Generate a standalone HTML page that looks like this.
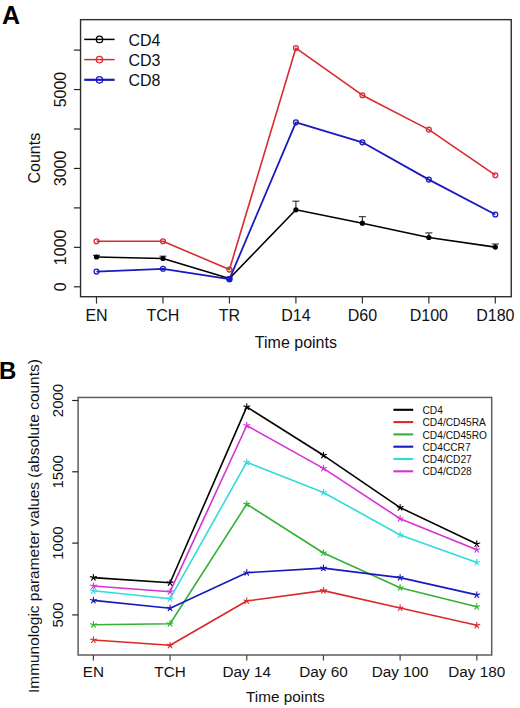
<!DOCTYPE html><html><head><meta charset="utf-8"><style>html,body{margin:0;padding:0;background:#fff;}svg{display:block;}text{font-family:"Liberation Sans",sans-serif;}</style></head><body>
<svg width="520" height="708" viewBox="0 0 520 708">
<rect width="520" height="708" fill="#fff"/>
<text x="2" y="23.8" font-size="25" font-weight="bold" fill="#000">A</text>
<rect x="80.55" y="19.65" width="430.7" height="277.05" fill="none" stroke="#2e2e2e" stroke-width="1.4"/>
<line x1="96.5" y1="296.7" x2="96.5" y2="303.6" stroke="#333" stroke-width="1.2"/>
<text x="96.5" y="321.3" font-size="16" text-anchor="middle" fill="#111">EN</text>
<line x1="162.97" y1="296.7" x2="162.97" y2="303.6" stroke="#333" stroke-width="1.2"/>
<text x="162.97" y="321.3" font-size="16" text-anchor="middle" fill="#111">TCH</text>
<line x1="229.44" y1="296.7" x2="229.44" y2="303.6" stroke="#333" stroke-width="1.2"/>
<text x="229.44" y="321.3" font-size="16" text-anchor="middle" fill="#111">TR</text>
<line x1="295.91" y1="296.7" x2="295.91" y2="303.6" stroke="#333" stroke-width="1.2"/>
<text x="295.91" y="321.3" font-size="16" text-anchor="middle" fill="#111">D14</text>
<line x1="362.38" y1="296.7" x2="362.38" y2="303.6" stroke="#333" stroke-width="1.2"/>
<text x="362.38" y="321.3" font-size="16" text-anchor="middle" fill="#111">D60</text>
<line x1="428.85" y1="296.7" x2="428.85" y2="303.6" stroke="#333" stroke-width="1.2"/>
<text x="428.85" y="321.3" font-size="16" text-anchor="middle" fill="#111">D100</text>
<line x1="495.32" y1="296.7" x2="495.32" y2="303.6" stroke="#333" stroke-width="1.2"/>
<text x="495.32" y="321.3" font-size="16" text-anchor="middle" fill="#111">D180</text>
<line x1="73.9" y1="286.8" x2="80.55" y2="286.8" stroke="#222" stroke-width="1.2"/>
<text transform="translate(65.6 286.8) rotate(-90)" font-size="16" text-anchor="middle" fill="#111">0</text>
<line x1="73.9" y1="247.35" x2="80.55" y2="247.35" stroke="#222" stroke-width="1.2"/>
<text transform="translate(65.6 247.35) rotate(-90)" font-size="16" text-anchor="middle" fill="#111">1000</text>
<line x1="73.9" y1="207.9" x2="80.55" y2="207.9" stroke="#222" stroke-width="1.2"/>
<line x1="73.9" y1="168.45" x2="80.55" y2="168.45" stroke="#222" stroke-width="1.2"/>
<text transform="translate(65.6 168.45) rotate(-90)" font-size="16" text-anchor="middle" fill="#111">3000</text>
<line x1="73.9" y1="129" x2="80.55" y2="129" stroke="#222" stroke-width="1.2"/>
<line x1="73.9" y1="89.55" x2="80.55" y2="89.55" stroke="#222" stroke-width="1.2"/>
<text transform="translate(65.6 89.55) rotate(-90)" font-size="16" text-anchor="middle" fill="#111">5000</text>
<line x1="73.9" y1="50.1" x2="80.55" y2="50.1" stroke="#222" stroke-width="1.2"/>
<text transform="translate(40.3 158.15) rotate(-90)" font-size="16" text-anchor="middle" fill="#111">Counts</text>
<text x="295.9" y="347.8" font-size="16" text-anchor="middle" fill="#111">Time points</text>
<polyline points="96.5,257 162.97,258.5 229.44,278.5 295.91,209.8 362.38,223.2 428.85,237.5 495.32,247.1" fill="none" stroke="#000" stroke-width="1.6" stroke-linejoin="round"/>
<line x1="96.5" y1="257" x2="96.5" y2="255.3" stroke="#2a2a2a" stroke-width="1.1"/>
<line x1="93" y1="255.3" x2="100" y2="255.3" stroke="#2a2a2a" stroke-width="1.1"/>
<circle cx="96.5" cy="257" r="2.6" fill="#000"/>
<line x1="162.97" y1="258.5" x2="162.97" y2="256.2" stroke="#2a2a2a" stroke-width="1.1"/>
<line x1="159.47" y1="256.2" x2="166.47" y2="256.2" stroke="#2a2a2a" stroke-width="1.1"/>
<circle cx="162.97" cy="258.5" r="2.6" fill="#000"/>
<line x1="229.44" y1="278.5" x2="229.44" y2="277.2" stroke="#2a2a2a" stroke-width="1.1"/>
<line x1="225.94" y1="277.2" x2="232.94" y2="277.2" stroke="#2a2a2a" stroke-width="1.1"/>
<circle cx="229.44" cy="278.5" r="2.6" fill="#000"/>
<line x1="295.91" y1="209.8" x2="295.91" y2="201.2" stroke="#2a2a2a" stroke-width="1.1"/>
<line x1="292.41" y1="201.2" x2="299.41" y2="201.2" stroke="#2a2a2a" stroke-width="1.1"/>
<circle cx="295.91" cy="209.8" r="2.6" fill="#000"/>
<line x1="362.38" y1="223.2" x2="362.38" y2="216.7" stroke="#2a2a2a" stroke-width="1.1"/>
<line x1="358.88" y1="216.7" x2="365.88" y2="216.7" stroke="#2a2a2a" stroke-width="1.1"/>
<circle cx="362.38" cy="223.2" r="2.6" fill="#000"/>
<line x1="428.85" y1="237.5" x2="428.85" y2="232.9" stroke="#2a2a2a" stroke-width="1.1"/>
<line x1="425.35" y1="232.9" x2="432.35" y2="232.9" stroke="#2a2a2a" stroke-width="1.1"/>
<circle cx="428.85" cy="237.5" r="2.6" fill="#000"/>
<line x1="495.32" y1="247.1" x2="495.32" y2="244" stroke="#2a2a2a" stroke-width="1.1"/>
<line x1="491.82" y1="244" x2="498.82" y2="244" stroke="#2a2a2a" stroke-width="1.1"/>
<circle cx="495.32" cy="247.1" r="2.6" fill="#000"/>
<polyline points="96.5,241.2 162.97,241.2 229.44,269.6 295.91,48.1 362.38,95.2 428.85,129.6 495.32,175.2" fill="none" stroke="#d82a30" stroke-width="1.6" stroke-linejoin="round"/>
<circle cx="96.5" cy="241.2" r="2.45" fill="none" stroke="#d82a30" stroke-width="1.25"/>
<circle cx="162.97" cy="241.2" r="2.45" fill="none" stroke="#d82a30" stroke-width="1.25"/>
<circle cx="229.44" cy="269.6" r="2.45" fill="none" stroke="#d82a30" stroke-width="1.25"/>
<circle cx="295.91" cy="48.1" r="2.45" fill="none" stroke="#d82a30" stroke-width="1.25"/>
<circle cx="362.38" cy="95.2" r="2.45" fill="none" stroke="#d82a30" stroke-width="1.25"/>
<circle cx="428.85" cy="129.6" r="2.45" fill="none" stroke="#d82a30" stroke-width="1.25"/>
<circle cx="495.32" cy="175.2" r="2.45" fill="none" stroke="#d82a30" stroke-width="1.25"/>
<polyline points="96.5,271.6 162.97,268.8 229.44,279.2 295.91,122.3 362.38,142.3 428.85,179.6 495.32,214.5" fill="none" stroke="#1a1ac0" stroke-width="1.8" stroke-linejoin="round"/>
<circle cx="96.5" cy="271.6" r="2.45" fill="none" stroke="#1a1ac0" stroke-width="1.25"/>
<circle cx="162.97" cy="268.8" r="2.45" fill="none" stroke="#1a1ac0" stroke-width="1.25"/>
<circle cx="229.44" cy="279.2" r="2.45" fill="none" stroke="#1a1ac0" stroke-width="1.25"/>
<circle cx="295.91" cy="122.3" r="2.45" fill="none" stroke="#1a1ac0" stroke-width="1.25"/>
<circle cx="362.38" cy="142.3" r="2.45" fill="none" stroke="#1a1ac0" stroke-width="1.25"/>
<circle cx="428.85" cy="179.6" r="2.45" fill="none" stroke="#1a1ac0" stroke-width="1.25"/>
<circle cx="495.32" cy="214.5" r="2.45" fill="none" stroke="#1a1ac0" stroke-width="1.25"/>
<circle cx="229.44" cy="279.2" r="3" fill="#1a1ac0"/>
<line x1="84.2" y1="39.4" x2="114.6" y2="39.4" stroke="#000" stroke-width="1.5"/>
<circle cx="99.5" cy="39.4" r="3.2" fill="none" stroke="#000" stroke-width="1.3"/>
<text x="128.5" y="45.9" font-size="16" fill="#111">CD4</text>
<line x1="84.2" y1="59.6" x2="114.6" y2="59.6" stroke="#d82a30" stroke-width="1.5"/>
<circle cx="99.5" cy="59.6" r="3.2" fill="none" stroke="#d82a30" stroke-width="1.3"/>
<text x="128.5" y="66.1" font-size="16" fill="#111">CD3</text>
<line x1="84.2" y1="79.8" x2="114.6" y2="79.8" stroke="#1a1ac0" stroke-width="2.2"/>
<circle cx="99.5" cy="79.8" r="3.2" fill="none" stroke="#1a1ac0" stroke-width="1.3"/>
<text x="128.5" y="86.3" font-size="16" fill="#111">CD8</text>
<text x="-1" y="379" font-size="24" font-weight="bold" fill="#000">B</text>
<rect x="78.1" y="397.45" width="413.6" height="257.55" fill="none" stroke="#5e5e5e" stroke-width="1.5"/>
<line x1="93.4" y1="655" x2="93.4" y2="660.5" stroke="#444" stroke-width="1.2"/>
<text x="93.4" y="677.4" font-size="15.3" text-anchor="middle" fill="#111">EN</text>
<line x1="170.08" y1="655" x2="170.08" y2="660.5" stroke="#444" stroke-width="1.2"/>
<text x="170.08" y="677.4" font-size="15.3" text-anchor="middle" fill="#111">TCH</text>
<line x1="246.76" y1="655" x2="246.76" y2="660.5" stroke="#444" stroke-width="1.2"/>
<text x="246.76" y="677.4" font-size="15.3" text-anchor="middle" fill="#111">Day 14</text>
<line x1="323.44" y1="655" x2="323.44" y2="660.5" stroke="#444" stroke-width="1.2"/>
<text x="323.44" y="677.4" font-size="15.3" text-anchor="middle" fill="#111">Day 60</text>
<line x1="400.12" y1="655" x2="400.12" y2="660.5" stroke="#444" stroke-width="1.2"/>
<text x="400.12" y="677.4" font-size="15.3" text-anchor="middle" fill="#111">Day 100</text>
<line x1="476.8" y1="655" x2="476.8" y2="660.5" stroke="#444" stroke-width="1.2"/>
<text x="476.8" y="677.4" font-size="15.3" text-anchor="middle" fill="#111">Day 180</text>
<line x1="72.2" y1="400.5" x2="78.1" y2="400.5" stroke="#222" stroke-width="1.2"/>
<text transform="translate(63.1 400.5) rotate(-90)" font-size="15" text-anchor="middle" fill="#111">2000</text>
<line x1="72.2" y1="471.8" x2="78.1" y2="471.8" stroke="#222" stroke-width="1.2"/>
<text transform="translate(63.1 471.8) rotate(-90)" font-size="15" text-anchor="middle" fill="#111">1500</text>
<line x1="72.2" y1="543.1" x2="78.1" y2="543.1" stroke="#222" stroke-width="1.2"/>
<text transform="translate(63.1 543.1) rotate(-90)" font-size="15" text-anchor="middle" fill="#111">1000</text>
<line x1="72.2" y1="614.9" x2="78.1" y2="614.9" stroke="#222" stroke-width="1.2"/>
<text transform="translate(63.1 614.9) rotate(-90)" font-size="15" text-anchor="middle" fill="#111">500</text>
<text transform="translate(39.2 526.1) rotate(-90)" font-size="15.45" text-anchor="middle" fill="#111">Immunologic parameter values (absolute counts)</text>
<text x="285.3" y="701.6" font-size="15.3" text-anchor="middle" fill="#111">Time points</text>
<polyline points="93.4,577.6 170.08,582.8 246.76,406.9 323.44,455.3 400.12,507.6 476.8,544" fill="none" stroke="#000" stroke-width="1.6" stroke-linejoin="round"/>
<path d="M93.4 577.6L93.4 574.5M93.4 577.6L96.35 576.64M93.4 577.6L90.45 576.64M93.4 577.6L91.58 580.11M93.4 577.6L95.22 580.11" stroke="#000" stroke-width="1.15" fill="none" stroke-linecap="round"/>
<path d="M170.08 582.8L170.08 579.7M170.08 582.8L173.03 581.84M170.08 582.8L167.13 581.84M170.08 582.8L168.26 585.31M170.08 582.8L171.9 585.31" stroke="#000" stroke-width="1.15" fill="none" stroke-linecap="round"/>
<path d="M246.76 406.9L246.76 403.8M246.76 406.9L249.71 405.94M246.76 406.9L243.81 405.94M246.76 406.9L244.94 409.41M246.76 406.9L248.58 409.41" stroke="#000" stroke-width="1.15" fill="none" stroke-linecap="round"/>
<path d="M323.44 455.3L323.44 452.2M323.44 455.3L326.39 454.34M323.44 455.3L320.49 454.34M323.44 455.3L321.62 457.81M323.44 455.3L325.26 457.81" stroke="#000" stroke-width="1.15" fill="none" stroke-linecap="round"/>
<path d="M400.12 507.6L400.12 504.5M400.12 507.6L403.07 506.64M400.12 507.6L397.17 506.64M400.12 507.6L398.3 510.11M400.12 507.6L401.94 510.11" stroke="#000" stroke-width="1.15" fill="none" stroke-linecap="round"/>
<path d="M476.8 544L476.8 540.9M476.8 544L479.75 543.04M476.8 544L473.85 543.04M476.8 544L474.98 546.51M476.8 544L478.62 546.51" stroke="#000" stroke-width="1.15" fill="none" stroke-linecap="round"/>
<polyline points="93.4,640 170.08,645.3 246.76,601 323.44,590.6 400.12,608 476.8,625.3" fill="none" stroke="#dc2828" stroke-width="1.6" stroke-linejoin="round"/>
<path d="M93.4 640L93.4 636.9M93.4 640L96.35 639.04M93.4 640L90.45 639.04M93.4 640L91.58 642.51M93.4 640L95.22 642.51" stroke="#dc2828" stroke-width="1.15" fill="none" stroke-linecap="round"/>
<path d="M170.08 645.3L170.08 642.2M170.08 645.3L173.03 644.34M170.08 645.3L167.13 644.34M170.08 645.3L168.26 647.81M170.08 645.3L171.9 647.81" stroke="#dc2828" stroke-width="1.15" fill="none" stroke-linecap="round"/>
<path d="M246.76 601L246.76 597.9M246.76 601L249.71 600.04M246.76 601L243.81 600.04M246.76 601L244.94 603.51M246.76 601L248.58 603.51" stroke="#dc2828" stroke-width="1.15" fill="none" stroke-linecap="round"/>
<path d="M323.44 590.6L323.44 587.5M323.44 590.6L326.39 589.64M323.44 590.6L320.49 589.64M323.44 590.6L321.62 593.11M323.44 590.6L325.26 593.11" stroke="#dc2828" stroke-width="1.15" fill="none" stroke-linecap="round"/>
<path d="M400.12 608L400.12 604.9M400.12 608L403.07 607.04M400.12 608L397.17 607.04M400.12 608L398.3 610.51M400.12 608L401.94 610.51" stroke="#dc2828" stroke-width="1.15" fill="none" stroke-linecap="round"/>
<path d="M476.8 625.3L476.8 622.2M476.8 625.3L479.75 624.34M476.8 625.3L473.85 624.34M476.8 625.3L474.98 627.81M476.8 625.3L478.62 627.81" stroke="#dc2828" stroke-width="1.15" fill="none" stroke-linecap="round"/>
<polyline points="93.4,624.7 170.08,623.7 246.76,504.1 323.44,553 400.12,587.7 476.8,606.7" fill="none" stroke="#34b034" stroke-width="1.6" stroke-linejoin="round"/>
<path d="M93.4 624.7L93.4 621.6M93.4 624.7L96.35 623.74M93.4 624.7L90.45 623.74M93.4 624.7L91.58 627.21M93.4 624.7L95.22 627.21" stroke="#34b034" stroke-width="1.15" fill="none" stroke-linecap="round"/>
<path d="M170.08 623.7L170.08 620.6M170.08 623.7L173.03 622.74M170.08 623.7L167.13 622.74M170.08 623.7L168.26 626.21M170.08 623.7L171.9 626.21" stroke="#34b034" stroke-width="1.15" fill="none" stroke-linecap="round"/>
<path d="M246.76 504.1L246.76 501M246.76 504.1L249.71 503.14M246.76 504.1L243.81 503.14M246.76 504.1L244.94 506.61M246.76 504.1L248.58 506.61" stroke="#34b034" stroke-width="1.15" fill="none" stroke-linecap="round"/>
<path d="M323.44 553L323.44 549.9M323.44 553L326.39 552.04M323.44 553L320.49 552.04M323.44 553L321.62 555.51M323.44 553L325.26 555.51" stroke="#34b034" stroke-width="1.15" fill="none" stroke-linecap="round"/>
<path d="M400.12 587.7L400.12 584.6M400.12 587.7L403.07 586.74M400.12 587.7L397.17 586.74M400.12 587.7L398.3 590.21M400.12 587.7L401.94 590.21" stroke="#34b034" stroke-width="1.15" fill="none" stroke-linecap="round"/>
<path d="M476.8 606.7L476.8 603.6M476.8 606.7L479.75 605.74M476.8 606.7L473.85 605.74M476.8 606.7L474.98 609.21M476.8 606.7L478.62 609.21" stroke="#34b034" stroke-width="1.15" fill="none" stroke-linecap="round"/>
<polyline points="93.4,600.4 170.08,608.2 246.76,572.7 323.44,568.1 400.12,577.6 476.8,594.9" fill="none" stroke="#1a1abc" stroke-width="1.6" stroke-linejoin="round"/>
<path d="M93.4 600.4L93.4 597.3M93.4 600.4L96.35 599.44M93.4 600.4L90.45 599.44M93.4 600.4L91.58 602.91M93.4 600.4L95.22 602.91" stroke="#1a1abc" stroke-width="1.15" fill="none" stroke-linecap="round"/>
<path d="M170.08 608.2L170.08 605.1M170.08 608.2L173.03 607.24M170.08 608.2L167.13 607.24M170.08 608.2L168.26 610.71M170.08 608.2L171.9 610.71" stroke="#1a1abc" stroke-width="1.15" fill="none" stroke-linecap="round"/>
<path d="M246.76 572.7L246.76 569.6M246.76 572.7L249.71 571.74M246.76 572.7L243.81 571.74M246.76 572.7L244.94 575.21M246.76 572.7L248.58 575.21" stroke="#1a1abc" stroke-width="1.15" fill="none" stroke-linecap="round"/>
<path d="M323.44 568.1L323.44 565M323.44 568.1L326.39 567.14M323.44 568.1L320.49 567.14M323.44 568.1L321.62 570.61M323.44 568.1L325.26 570.61" stroke="#1a1abc" stroke-width="1.15" fill="none" stroke-linecap="round"/>
<path d="M400.12 577.6L400.12 574.5M400.12 577.6L403.07 576.64M400.12 577.6L397.17 576.64M400.12 577.6L398.3 580.11M400.12 577.6L401.94 580.11" stroke="#1a1abc" stroke-width="1.15" fill="none" stroke-linecap="round"/>
<path d="M476.8 594.9L476.8 591.8M476.8 594.9L479.75 593.94M476.8 594.9L473.85 593.94M476.8 594.9L474.98 597.41M476.8 594.9L478.62 597.41" stroke="#1a1abc" stroke-width="1.15" fill="none" stroke-linecap="round"/>
<polyline points="93.4,590.8 170.08,598.7 246.76,462.2 323.44,492.5 400.12,535 476.8,562.5" fill="none" stroke="#2edcdc" stroke-width="1.6" stroke-linejoin="round"/>
<path d="M93.4 590.8L93.4 587.7M93.4 590.8L96.35 589.84M93.4 590.8L90.45 589.84M93.4 590.8L91.58 593.31M93.4 590.8L95.22 593.31" stroke="#2edcdc" stroke-width="1.15" fill="none" stroke-linecap="round"/>
<path d="M170.08 598.7L170.08 595.6M170.08 598.7L173.03 597.74M170.08 598.7L167.13 597.74M170.08 598.7L168.26 601.21M170.08 598.7L171.9 601.21" stroke="#2edcdc" stroke-width="1.15" fill="none" stroke-linecap="round"/>
<path d="M246.76 462.2L246.76 459.1M246.76 462.2L249.71 461.24M246.76 462.2L243.81 461.24M246.76 462.2L244.94 464.71M246.76 462.2L248.58 464.71" stroke="#2edcdc" stroke-width="1.15" fill="none" stroke-linecap="round"/>
<path d="M323.44 492.5L323.44 489.4M323.44 492.5L326.39 491.54M323.44 492.5L320.49 491.54M323.44 492.5L321.62 495.01M323.44 492.5L325.26 495.01" stroke="#2edcdc" stroke-width="1.15" fill="none" stroke-linecap="round"/>
<path d="M400.12 535L400.12 531.9M400.12 535L403.07 534.04M400.12 535L397.17 534.04M400.12 535L398.3 537.51M400.12 535L401.94 537.51" stroke="#2edcdc" stroke-width="1.15" fill="none" stroke-linecap="round"/>
<path d="M476.8 562.5L476.8 559.4M476.8 562.5L479.75 561.54M476.8 562.5L473.85 561.54M476.8 562.5L474.98 565.01M476.8 562.5L478.62 565.01" stroke="#2edcdc" stroke-width="1.15" fill="none" stroke-linecap="round"/>
<polyline points="93.4,586 170.08,591.7 246.76,425.5 323.44,468.4 400.12,518.7 476.8,549.7" fill="none" stroke="#d432d6" stroke-width="1.6" stroke-linejoin="round"/>
<path d="M93.4 586L93.4 582.9M93.4 586L96.35 585.04M93.4 586L90.45 585.04M93.4 586L91.58 588.51M93.4 586L95.22 588.51" stroke="#d432d6" stroke-width="1.15" fill="none" stroke-linecap="round"/>
<path d="M170.08 591.7L170.08 588.6M170.08 591.7L173.03 590.74M170.08 591.7L167.13 590.74M170.08 591.7L168.26 594.21M170.08 591.7L171.9 594.21" stroke="#d432d6" stroke-width="1.15" fill="none" stroke-linecap="round"/>
<path d="M246.76 425.5L246.76 422.4M246.76 425.5L249.71 424.54M246.76 425.5L243.81 424.54M246.76 425.5L244.94 428.01M246.76 425.5L248.58 428.01" stroke="#d432d6" stroke-width="1.15" fill="none" stroke-linecap="round"/>
<path d="M323.44 468.4L323.44 465.3M323.44 468.4L326.39 467.44M323.44 468.4L320.49 467.44M323.44 468.4L321.62 470.91M323.44 468.4L325.26 470.91" stroke="#d432d6" stroke-width="1.15" fill="none" stroke-linecap="round"/>
<path d="M400.12 518.7L400.12 515.6M400.12 518.7L403.07 517.74M400.12 518.7L397.17 517.74M400.12 518.7L398.3 521.21M400.12 518.7L401.94 521.21" stroke="#d432d6" stroke-width="1.15" fill="none" stroke-linecap="round"/>
<path d="M476.8 549.7L476.8 546.6M476.8 549.7L479.75 548.74M476.8 549.7L473.85 548.74M476.8 549.7L474.98 552.21M476.8 549.7L478.62 552.21" stroke="#d432d6" stroke-width="1.15" fill="none" stroke-linecap="round"/>
<line x1="393.4" y1="409.8" x2="413.2" y2="409.8" stroke="#000" stroke-width="2.1"/>
<text x="422.5" y="413.9" font-size="10.2" fill="#111">CD4</text>
<line x1="393.4" y1="422.1" x2="413.2" y2="422.1" stroke="#dc2828" stroke-width="2.1"/>
<text x="422.5" y="426.2" font-size="10.2" fill="#111">CD4/CD45RA</text>
<line x1="393.4" y1="434.4" x2="413.2" y2="434.4" stroke="#34b034" stroke-width="2.1"/>
<text x="422.5" y="438.5" font-size="10.2" fill="#111">CD4/CD45RO</text>
<line x1="393.4" y1="446.7" x2="413.2" y2="446.7" stroke="#1a1abc" stroke-width="2.1"/>
<text x="422.5" y="450.8" font-size="10.2" fill="#111">CD4CCR7</text>
<line x1="393.4" y1="459" x2="413.2" y2="459" stroke="#2edcdc" stroke-width="2.1"/>
<text x="422.5" y="463.1" font-size="10.2" fill="#111">CD4/CD27</text>
<line x1="393.4" y1="471.3" x2="413.2" y2="471.3" stroke="#d432d6" stroke-width="2.1"/>
<text x="422.5" y="475.4" font-size="10.2" fill="#111">CD4/CD28</text>
</svg></body></html>
